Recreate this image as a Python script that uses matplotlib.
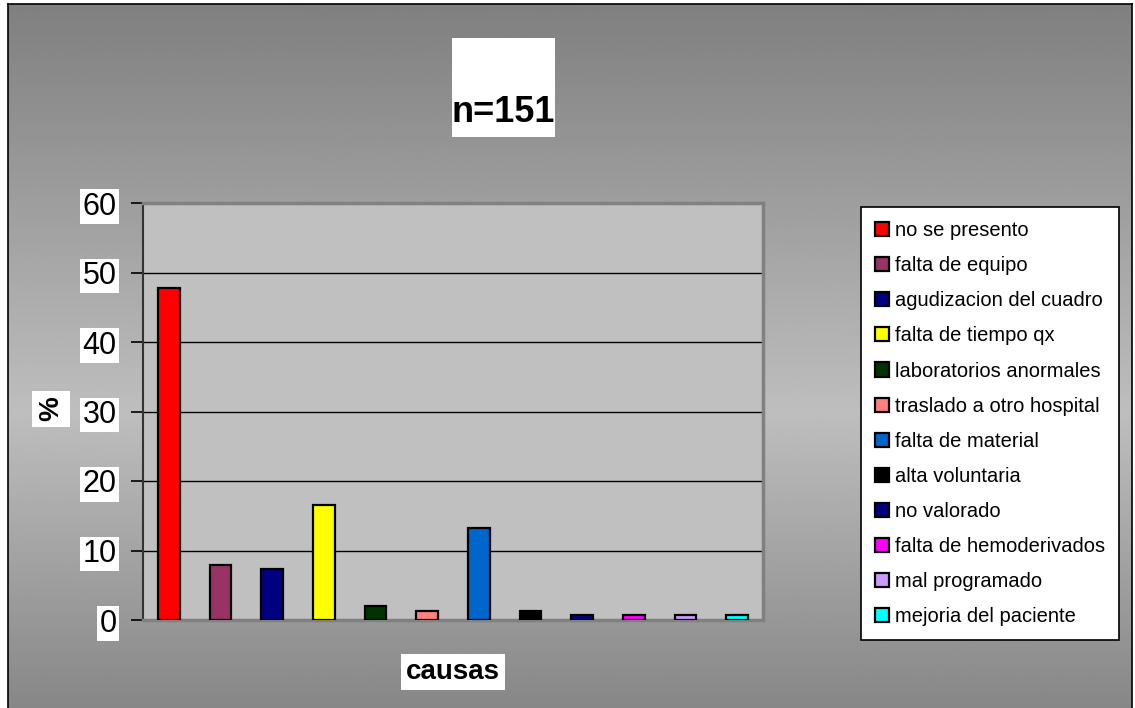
import numpy as np
import matplotlib
matplotlib.use("Agg")
import matplotlib.pyplot as plt
from matplotlib.patches import Rectangle

plt.rcParams['font.family'] = ['Liberation Sans', 'DejaVu Sans']

# Data (percent of 151 cancelled surgeries)
causas = ["no se presento", "falta de equipo", "agudizacion del cuadro",
          "falta de tiempo qx", "laboratorios anormales", "traslado a otro hospital",
          "falta de material", "alta voluntaria", "no valorado",
          "falta de hemoderivados", "mal programado", "mejoria del paciente"]
porcentaje = [47.7, 7.9, 7.3, 16.6, 2.0, 1.3, 13.2, 1.3, 0.7, 0.7, 0.7, 0.7]
colores = ["#FF0000", "#993366", "#000080", "#FFFF00", "#003300", "#FF8080",
           "#0066CC", "#000000", "#000080", "#FF00FF", "#CC99FF", "#00FFFF"]
yticks = [0, 10, 20, 30, 40, 50, 60]

W, H = 1135, 708
fig = plt.figure(figsize=(W / 100, H / 100), dpi=100)
fig.patch.set_facecolor("white")

# grey gradient background with black frame
bg = fig.add_axes([8 / W, 0, (1132 - 8) / W, 704 / H])
rows = np.linspace(0, 1, 300)
shade = np.interp(rows, [0, 0.58, 1], [0.50, 0.745, 0.53])
bg.imshow(np.repeat(shade[:, None], 2, axis=1), cmap="gray", vmin=0, vmax=1,
          aspect="auto", extent=[0, 1, 0, 1], origin="upper")
bg.set_xticks([])
bg.set_yticks([])
for s in bg.spines.values():
    s.set_color("black")
    s.set_linewidth(1.2)
bg.spines["bottom"].set_visible(False)

ax = fig.add_axes([143 / W, (H - 620) / H, 620 / W, 417 / H])
ax.set_facecolor("#C0C0C0")
x = np.arange(len(causas))
bars = ax.bar(x, porcentaje, width=0.42, color=colores, edgecolor="black",
              linewidth=1.6, label=causas, zorder=3)
ax.set_xlim(-0.5, len(causas) - 0.5)
ax.set_ylim(0, 60)
ax.set_yticks(yticks)
ax.set_xticks([])
ax.yaxis.grid(True, color="black", linewidth=1)
ax.set_axisbelow(True)
ax.tick_params(axis="y", length=9, width=1.2, direction="out", pad=10,
               labelsize=22)
for lbl in ax.get_yticklabels():
    lbl.set_bbox(dict(facecolor="white", edgecolor="none", pad=1.5))
for side in ["top", "right", "bottom"]:
    ax.spines[side].set_color("#808080")
    ax.spines[side].set_linewidth(2.5)
ax.spines["left"].set_color("#333333")
ax.spines["left"].set_linewidth(1.5)

# title box
fig.patches.append(Rectangle((452 / W, 1 - 137 / H), 103 / W, 99 / H,
                             transform=fig.transFigure, facecolor="white",
                             edgecolor="none", zorder=5))
fig.text(503.5 / W, 1 - 112 / H, "n=151", ha="center", va="center",
         fontsize=26, fontweight="bold", zorder=6)

fig.text(51 / W, 1 - 409 / H, "%", rotation=90, ha="center", va="center",
         fontsize=20, fontweight="bold",
         bbox=dict(facecolor="white", edgecolor="none", pad=4))
fig.text(453 / W, 1 - 672 / H, "causas", ha="center", va="center",
         fontsize=20, fontweight="bold",
         bbox=dict(facecolor="white", edgecolor="none", pad=3.5))

leg = ax.legend(loc="upper left", bbox_to_anchor=(861 / W, 1 - 207 / H),
                bbox_transform=fig.transFigure, fontsize=14.5, frameon=True,
                fancybox=False, edgecolor="black", facecolor="white",
                framealpha=1, handlelength=0.7, handleheight=0.7,
                handletextpad=0.3, labelspacing=0.8, borderpad=0.7,
                borderaxespad=0)
leg.get_frame().set_linewidth(1.2)

fig.savefig("out.png", dpi=100)
